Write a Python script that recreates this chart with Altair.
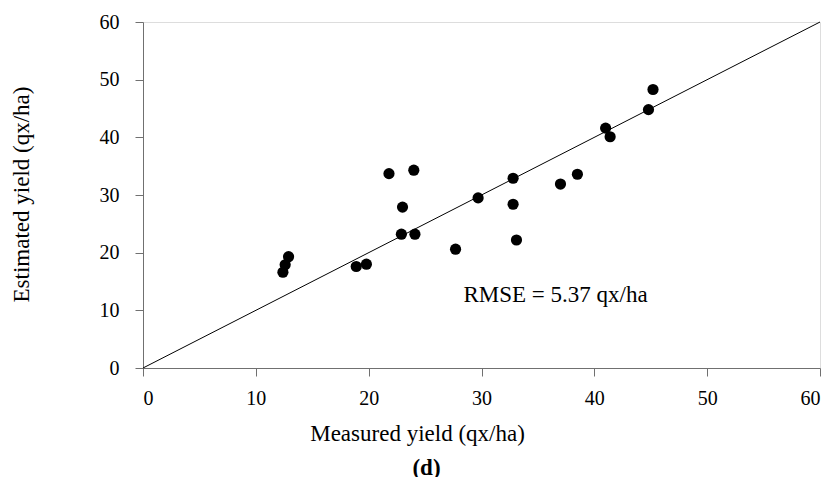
import altair as alt
import pandas as pd

measured = [12.4, 12.6, 12.9, 18.9, 19.8, 21.8, 24.0, 23.0, 22.9, 24.1, 27.7,
            29.7, 32.8, 32.8, 33.1, 37.0, 38.5, 41.0, 41.4, 44.8, 45.2]
estimated = [16.6, 17.9, 19.3, 17.6, 18.0, 33.7, 34.3, 27.9, 23.2, 23.2, 20.6,
             29.5, 32.9, 28.4, 22.2, 31.9, 33.6, 41.6, 40.1, 44.8, 48.3]
line_x = [0, 60]
line_y = [0, 60]
label_text = ["RMSE = 5.37 qx/ha"]
label_x = [28.4]
label_y = [11.5]

FONT = "Liberation Serif"
AXIS_GRAY = "#707070"

pts = pd.DataFrame({"m": measured, "e": estimated})
ln = pd.DataFrame({"m": line_x, "e": line_y})
lab = pd.DataFrame({"m": label_x, "e": label_y, "t": label_text})

xscale = alt.Scale(domain=[0, 60], nice=False)
yscale = alt.Scale(domain=[0, 60], nice=False)

xaxis = alt.Axis(values=[0, 10, 20, 30, 40, 50, 60], grid=False,
                 title="Measured yield (qx/ha)", domainColor=AXIS_GRAY,
                 tickColor=AXIS_GRAY, tickSize=8, labelPadding=12,
                 labelFont=FONT, labelFontSize=20, labelColor="black",
                 titleFont=FONT, titleFontSize=23, titleFontWeight="normal",
                 titleColor="black", titleAlign="center", titleBaseline="alphabetic",
                 titleX=274, titleY=72)
yaxis = alt.Axis(values=[0, 10, 20, 30, 40, 50, 60], grid=False,
                 title="Estimated yield (qx/ha)", domainColor=AXIS_GRAY,
                 tickColor=AXIS_GRAY, tickSize=8, labelPadding=16,
                 labelFont=FONT, labelFontSize=20, labelColor="black",
                 titleFont=FONT, titleFontSize=23, titleFontWeight="normal",
                 titleColor="black", titleAlign="center", titleBaseline="alphabetic",
                 titleAngle=270, titleX=-115, titleY=172)

line = alt.Chart(ln).mark_line(color="black", strokeWidth=1).encode(
    x=alt.X("m:Q", scale=xscale, axis=xaxis),
    y=alt.Y("e:Q", scale=yscale, axis=yaxis),
)
points = alt.Chart(pts).mark_circle(color="black", opacity=1, size=125).encode(
    x=alt.X("m:Q", scale=xscale),
    y=alt.Y("e:Q", scale=yscale),
)
text = alt.Chart(lab).mark_text(font=FONT, fontSize=23, align="left",
                                baseline="alphabetic", color="black").encode(
    x=alt.X("m:Q", scale=xscale),
    y=alt.Y("e:Q", scale=yscale),
    text="t:N",
)

chart = alt.layer(line, points, text).properties(
    width=677, height=346,
    autosize=alt.AutoSizeParams(type="none"),
    padding={"left": 135, "top": 14, "right": 3, "bottom": 109},
    title=alt.TitleParams("(d)", orient="bottom", anchor="middle", font=FONT,
                          fontSize=23, fontWeight="bold", color="black",
                          dx=-55, offset=30, baseline="alphabetic"),
).configure_view(stroke="black", strokeWidth=1).configure(background="white")

chart.save("out.html", embed_options={"renderer": "svg", "actions": False})
